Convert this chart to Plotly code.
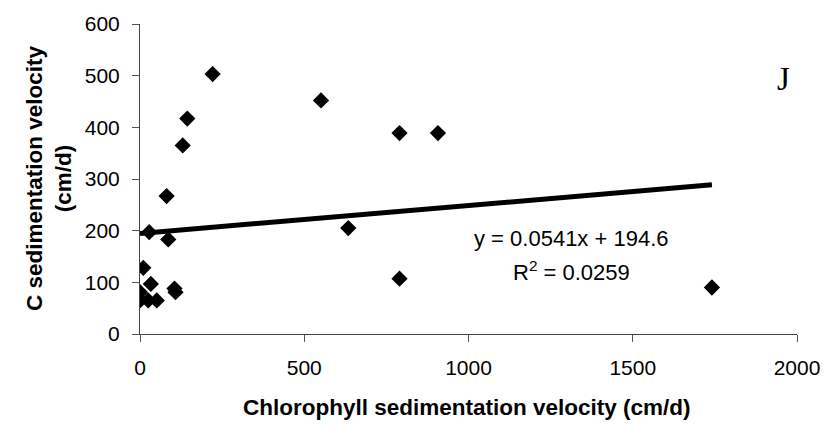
import plotly.graph_objects as go

# Data
chl_velocity = [221, 551, 144, 130, 81, 28, 86, 10, 33, 108, 105, 0, 0, 25, 51, 634, 790, 907, 790, 1741]
c_velocity = [503, 452, 417, 365, 267, 197, 183, 128, 97, 81, 88, 81, 65, 65, 65, 205, 389, 389, 107, 90]

slope = 0.0541
intercept = 194.6
eq_text = "y = 0.0541x + 194.6"
r2_text = "R<sup>2</sup> = 0.0259"
panel_label = "J"

x_ticks = [0, 500, 1000, 1500, 2000]
y_ticks = [0, 100, 200, 300, 400, 500, 600]

fit_x = [min(chl_velocity), max(chl_velocity)]
fit_y = [slope * v + intercept for v in fit_x]

FONT = "Liberation Sans, Arial, sans-serif"

fig = go.Figure()
fig.add_trace(go.Scatter(
    x=fit_x, y=fit_y, mode="lines",
    line=dict(color="black", width=5),
    showlegend=False, hoverinfo="skip",
))
fig.add_trace(go.Scatter(
    x=chl_velocity, y=c_velocity, mode="markers",
    marker=dict(symbol="diamond", size=12.5, color="black", line=dict(width=0)),
    showlegend=False,
))

axis_common = dict(
    showgrid=False, zeroline=False, showline=True,
    linecolor="#444", linewidth=1,
    ticks="outside", ticklen=7, tickcolor="#555", tickwidth=1,
    tickfont=dict(family=FONT, size=21, color="black"),
)

fig.update_layout(
    width=832, height=426,
    margin=dict(l=140, r=35, t=18, b=92),
    paper_bgcolor="white", plot_bgcolor="white",
    xaxis=dict(range=[0, 2000], tickvals=x_ticks, ticklabelstandoff=8, **axis_common),
    yaxis=dict(range=[0, 600], tickvals=y_ticks, ticklabelstandoff=8, **axis_common),
    annotations=[
        dict(text="<b>Chlorophyll sedimentation velocity (cm/d)</b>", xref="paper", yref="paper",
             x=(467 - 140) / 657, y=(334 - 409) / 316, xanchor="center", yanchor="middle", showarrow=False,
             font=dict(family=FONT, size=22.5, color="black")),
        dict(text="<b>C sedimentation velocity<br>(cm/d)</b>", xref="paper", yref="paper",
             x=(49 - 140) / 657, y=(334 - 175) / 316, xanchor="center", yanchor="middle", showarrow=False,
             textangle=-90, font=dict(family=FONT, size=22.5, color="black")),
        dict(text=eq_text, xref="paper", yref="paper",
             x=(571 - 140) / 657, y=(334 - 237) / 316, xanchor="center", yanchor="middle",
             showarrow=False, font=dict(family=FONT, size=22, color="black")),
        dict(text=r2_text, xref="paper", yref="paper",
             x=(571 - 140) / 657, y=(334 - 270) / 316, xanchor="center", yanchor="middle",
             showarrow=False, font=dict(family=FONT, size=22, color="black")),
        dict(text=panel_label, xref="paper", yref="paper",
             x=(783 - 140) / 657, y=(334 - 74) / 316, xanchor="center", yanchor="middle",
             showarrow=False, font=dict(family="Liberation Serif, Times New Roman, serif", size=33, color="black")),
    ],
)

fig.write_html("out.html")
